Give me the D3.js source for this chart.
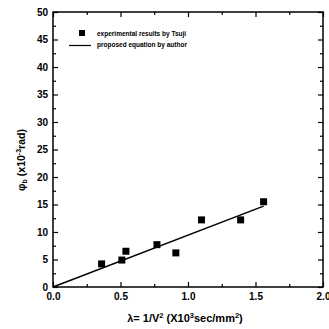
<!DOCTYPE html>
<html>
<head>
<meta charset="utf-8">
<script src="https://cdn.jsdelivr.net/npm/d3@7"></script>
<style>
  body { margin: 0; background: #fff; }
  text { font-family: "Liberation Sans", Arial, sans-serif; font-weight: bold; fill: #000; }
</style>
</head>
<body>
<svg id="chart" width="329" height="329"></svg>
<script>
// experimental results by Tsuji
var expX = [0.36, 0.51, 0.54, 0.77, 0.91, 1.10, 1.39, 1.56];
var expY = [4.2, 4.9, 6.5, 7.7, 6.2, 12.2, 12.2, 15.5];
// proposed equation by author (straight line)
var lineX = [0, 1.56];
var lineY = [0, 14.7];
var xTicks = [0, 0.5, 1.0, 1.5, 2.0];
var yTicks = [0, 5, 10, 15, 20, 25, 30, 35, 40, 45, 50];

var svg = d3.select("#chart");
var x = d3.scaleLinear().domain([0, 2]).range([53, 323]);
var y = d3.scaleLinear().domain([0, 50]).range([287, 12]);

// frame
svg.append("rect")
  .attr("x", x(0)).attr("y", y(50))
  .attr("width", x(2) - x(0)).attr("height", y(0) - y(50))
  .attr("fill", "none").attr("stroke", "#000").attr("stroke-width", 1.5);

var minorX = d3.range(0.25, 2, 0.5);
var minorY = d3.range(2.5, 50, 5);

// axes with inward ticks
svg.append("g").attr("transform", "translate(0," + y(0) + ")")
  .call(d3.axisBottom(x).tickValues(xTicks).tickFormat(d3.format(".1f")).tickSizeInner(-5).tickSizeOuter(0).tickPadding(6))
  .call(function(g){ g.select(".domain").remove(); g.selectAll("text").attr("font-size", 10); });
svg.append("g").attr("transform", "translate(0," + y(0) + ")")
  .call(d3.axisBottom(x).tickValues(minorX).tickFormat("").tickSizeInner(-3).tickSizeOuter(0))
  .call(function(g){ g.select(".domain").remove(); });
svg.append("g").attr("transform", "translate(0," + y(50) + ")")
  .call(d3.axisTop(x).tickValues(xTicks).tickFormat("").tickSizeInner(-5).tickSizeOuter(0))
  .call(function(g){ g.select(".domain").remove(); });
svg.append("g").attr("transform", "translate(0," + y(50) + ")")
  .call(d3.axisTop(x).tickValues(minorX).tickFormat("").tickSizeInner(-3).tickSizeOuter(0))
  .call(function(g){ g.select(".domain").remove(); });

svg.append("g").attr("transform", "translate(" + x(0) + ",0)")
  .call(d3.axisLeft(y).tickValues(yTicks).tickSizeInner(-5).tickSizeOuter(0).tickPadding(5))
  .call(function(g){ g.select(".domain").remove(); g.selectAll("text").attr("font-size", 10); });
svg.append("g").attr("transform", "translate(" + x(0) + ",0)")
  .call(d3.axisLeft(y).tickValues(minorY).tickFormat("").tickSizeInner(-3).tickSizeOuter(0))
  .call(function(g){ g.select(".domain").remove(); });
svg.append("g").attr("transform", "translate(" + x(2) + ",0)")
  .call(d3.axisRight(y).tickValues(yTicks).tickFormat("").tickSizeInner(-5).tickSizeOuter(0))
  .call(function(g){ g.select(".domain").remove(); });
svg.append("g").attr("transform", "translate(" + x(2) + ",0)")
  .call(d3.axisRight(y).tickValues(minorY).tickFormat("").tickSizeInner(-3).tickSizeOuter(0))
  .call(function(g){ g.select(".domain").remove(); });

svg.selectAll(".tick line").attr("stroke-width", 1.2);

// proposed equation line
svg.append("path")
  .datum(d3.zip(lineX, lineY))
  .attr("d", d3.line().x(function(d){ return x(d[0]); }).y(function(d){ return y(d[1]); }))
  .attr("fill", "none").attr("stroke", "#000").attr("stroke-width", 1.5);

// experimental points
svg.selectAll("rect.pt")
  .data(d3.zip(expX, expY))
  .enter().append("rect")
  .attr("class", "pt")
  .attr("x", function(d){ return x(d[0]) - 3.5; })
  .attr("y", function(d){ return y(d[1]) - 3.5; })
  .attr("width", 7).attr("height", 7)
  .attr("fill", "#000");

// legend
svg.append("rect").attr("x", 79).attr("y", 30).attr("width", 6).attr("height", 6).attr("fill", "#000");
svg.append("text").attr("x", 97).attr("y", 36).attr("font-size", 6.5).text("experimental results by Tsuji");
svg.append("line").attr("x1", 69).attr("x2", 91).attr("y1", 45.5).attr("y2", 45.5).attr("stroke", "#000").attr("stroke-width", 1.2);
svg.append("text").attr("x", 97).attr("y", 47).attr("font-size", 6.5).text("proposed equation by author");

// axis titles
var yl = svg.append("text")
  .attr("transform", "translate(25,160) rotate(-90)")
  .attr("text-anchor", "middle").attr("font-size", 10.5);
yl.append("tspan").text("φ");
yl.append("tspan").attr("font-size", 7).attr("dy", 2).text("b");
yl.append("tspan").attr("dy", -2).text(" (x10");
yl.append("tspan").attr("font-size", 7).attr("dy", -4).text("-3");
yl.append("tspan").attr("dy", 4).text("rad)");

var xl = svg.append("text")
  .attr("x", 185).attr("y", 322)
  .attr("text-anchor", "middle").attr("font-size", 11);
xl.append("tspan").text("λ= 1/V");
xl.append("tspan").attr("font-size", 7.5).attr("dy", -4).text("2");
xl.append("tspan").attr("dy", 4).text(" (X10");
xl.append("tspan").attr("font-size", 7.5).attr("dy", -4).text("3");
xl.append("tspan").attr("dy", 4).text("sec/mm");
xl.append("tspan").attr("font-size", 7.5).attr("dy", -4).text("2");
xl.append("tspan").attr("dy", 4).text(")");
</script>
</body>
</html>
